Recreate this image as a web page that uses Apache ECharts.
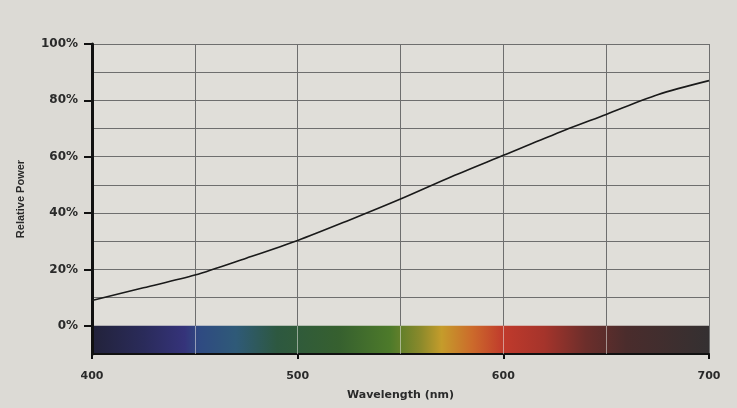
<!DOCTYPE html>
<html>
<head>
<meta charset="utf-8">
<script src="https://cdn.jsdelivr.net/npm/echarts@6/dist/echarts.min.js"></script>
<style>
html,body{margin:0;padding:0;background:#dcdad5;}
#c{width:737px;height:408px;}
</style>
</head>
<body>
<div id="c"></div>
<script>
// Data
var wavelengths = [400, 425, 450, 475, 500, 525, 550, 575, 600, 625, 650, 675, 700];
var relativePower = [9, 13.5, 18, 24, 30.3, 37.5, 45, 53, 60.5, 68, 75, 82, 87];
var xTickLabels = [400, 500, 600, 700];
var yTickLabels = [0, 20, 40, 60, 80, 100];
var xGridLines = [450, 500, 550, 600, 650];
// spectrum colour stops: [wavelength, colour]
var spectrumStops = [
  [400, '#22223a'], [425, '#2a2b5a'], [445, '#35337a'], [452, '#2f4a82'],
  [470, '#2f5a78'], [490, '#2d5840'], [520, '#36602f'], [545, '#4d7a2a'],
  [560, '#8c8a2b'], [570, '#c59c2b'], [585, '#cc6a2b'], [600, '#c03a2c'],
  [620, '#a5342b'], [640, '#6c2e2b'], [660, '#4a2c2c'], [700, '#343031']
];

var chart = echarts.init(document.getElementById('c'));
var xMin = 400, xMax = 700, yMin = -10, yMax = 100;
var gradStops = spectrumStops.map(function (s) {
  return { offset: (s[0] - xMin) / (xMax - xMin), color: s[1] };
});
var gridLineStyle = { color: '#6e6e6e', width: 1 };
var labelFont = { fontFamily: 'DejaVu Sans', fontWeight: 'bold', color: '#2a2a2a' };

chart.setOption({
  backgroundColor: '#dcdad5',
  animation: false,
  grid: { left: 92, right: 28, top: 44, bottom: 54, containLabel: false, show: true, backgroundColor: '#e0ded9', borderWidth: 0 },
  xAxis: [{
    type: 'value', min: xMin, max: xMax, interval: 50,
    name: 'Wavelength (nm)', nameLocation: 'middle', nameGap: 36,
    nameTextStyle: Object.assign({ fontSize: 11 }, labelFont),
    axisLine: { show: true, onZero: false, lineStyle: { color: '#111', width: 2 } },
    axisTick: { show: true, customValues: xTickLabels, length: 5, lineStyle: { color: '#111', width: 2 } },
    axisLabel: Object.assign({ customValues: xTickLabels, margin: 17, fontSize: 11 }, labelFont),
    splitLine: { show: false },
    z: 3
  }, {
    type: 'value', min: xMin, max: xMax, interval: 50, position: 'bottom',
    axisLine: { show: false, onZero: false }, axisTick: { show: false }, axisLabel: { show: false },
    splitLine: { show: true, lineStyle: gridLineStyle }
  }],
  yAxis: [{
    type: 'value', min: yMin, max: yMax, interval: 10,
    name: 'Relative Power', nameLocation: 'middle', nameGap: 66, nameRotate: 90,
    nameTextStyle: { fontFamily: 'Liberation Sans', fontWeight: 'bold', fontSize: 11, color: '#2a2a2a' },
    axisLine: { show: true, onZero: false, lineStyle: { color: '#111', width: 3 } },
    axisTick: { show: true, customValues: yTickLabels, length: 8, lineStyle: { color: '#111', width: 2 } },
    axisLabel: Object.assign({
      customValues: yTickLabels, margin: 14, fontSize: 12,
      formatter: function (v) { return v + '%'; }
    }, labelFont),
    splitLine: { show: false },
    z: 3
  }, {
    type: 'value', min: yMin, max: yMax, interval: 10, position: 'left',
    axisLine: { show: false, onZero: false }, axisTick: { show: false }, axisLabel: { show: false },
    splitLine: { show: true, lineStyle: gridLineStyle }
  }],
  series: [{
    type: 'line',
    xAxisIndex: 0, yAxisIndex: 0,
    data: wavelengths.map(function (w, i) { return [w, relativePower[i]]; }),
    smooth: 0.3,
    symbol: 'none',
    lineStyle: { color: '#1a1a1a', width: 1.6 },
    z: 5,
    markArea: {
      silent: true,
      itemStyle: {
        color: new echarts.graphic.LinearGradient(0, 0, 1, 0, gradStops),
        borderWidth: 0
      },
      data: [[{ coord: [xMin, yMin] }, { coord: [xMax, 0] }]]
    },
    markLine: {
      silent: true,
      symbol: ['none', 'none'],
      label: { show: false },
      lineStyle: { color: 'rgba(230,230,225,0.55)', width: 1, type: 'solid' },
      data: xGridLines.map(function (x) { return [{ coord: [x, yMin] }, { coord: [x, 0] }]; })
    }
  }]
});
</script>
</body>
</html>
